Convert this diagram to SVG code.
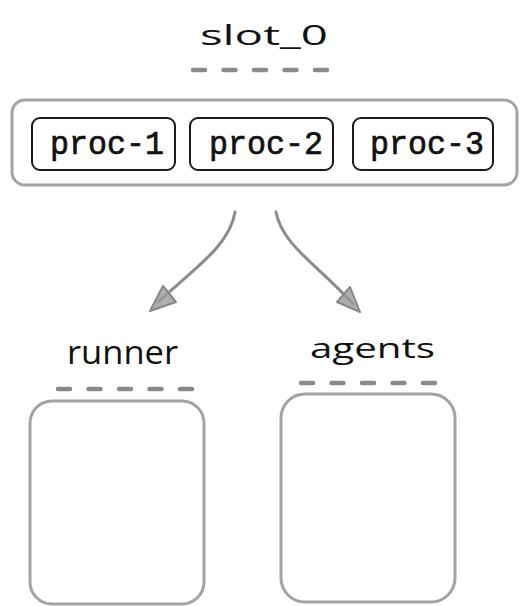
<svg xmlns="http://www.w3.org/2000/svg" width="520" height="606" viewBox="0 0 520 606">
<defs>
<style>
.hand{font-family:"Open Sans","Liberation Sans",sans-serif;fill:#111;}
.mono{font-family:"Liberation Mono","DejaVu Sans Mono",monospace;font-size:34px;fill:#111;stroke:#111;stroke-width:0.7;}
.dash{stroke:#8a8a8a;stroke-width:4.5;stroke-linecap:round;stroke-dasharray:12 18.5;fill:none;}
.frame{fill:#fff;stroke:#a3a3a3;stroke-width:3;}
.proc{fill:#fff;stroke:#1a1a1a;stroke-width:2;}
.conn{fill:none;stroke:#8c8c8c;stroke-width:3;stroke-linecap:round;}
.head{fill:#9a9a9a;stroke:#888;stroke-width:2;stroke-linejoin:round;fill-opacity:0.8;}
</style>
</defs>
<rect width="520" height="606" fill="#fff"/>
<g id="slot_0">
<text class="hand" x="200" y="45" font-size="27" textLength="128" lengthAdjust="spacingAndGlyphs">slot_0</text>
<line class="dash" x1="193" y1="70" x2="327" y2="70"/>
<rect class="frame" x="12" y="100" width="505" height="85" rx="13"/>
</g>
<g id="proc-1">
<rect class="proc" x="32" y="118" width="143" height="52" rx="8"/>
<text class="mono" x="50" y="154" textLength="114" lengthAdjust="spacingAndGlyphs">proc-1</text>
</g>
<g id="proc-2">
<rect class="proc" x="190" y="118" width="143" height="52" rx="8"/>
<text class="mono" x="209" y="154" textLength="114" lengthAdjust="spacingAndGlyphs">proc-2</text>
</g>
<g id="proc-3">
<rect class="proc" x="353" y="118" width="140" height="52" rx="8"/>
<text class="mono" x="370" y="154" textLength="114" lengthAdjust="spacingAndGlyphs">proc-3</text>
</g>
<g id="connectors">
<path class="conn" d="M235,212 C230,245 195,268 158,302"/>
<polygon class="head" points="150,311 163,286 176,302"/>
<path class="conn" d="M276,212 C282,245 318,265 353,304"/>
<polygon class="head" points="360,312 350,287 337,302"/>
</g>
<g id="runner">
<text class="hand" x="67" y="364" font-size="32" textLength="111" lengthAdjust="spacingAndGlyphs">runner</text>
<line class="dash" x1="58" y1="389" x2="192" y2="389"/>
<rect class="frame" x="30" y="401" width="174" height="203" rx="22"/>
</g>
<g id="agents">
<text class="hand" x="310" y="358" font-size="28" textLength="125" lengthAdjust="spacingAndGlyphs">agents</text>
<line class="dash" x1="301" y1="383" x2="435" y2="383"/>
<rect class="frame" x="281" y="394" width="174" height="208" rx="24"/>
</g>
</svg>
